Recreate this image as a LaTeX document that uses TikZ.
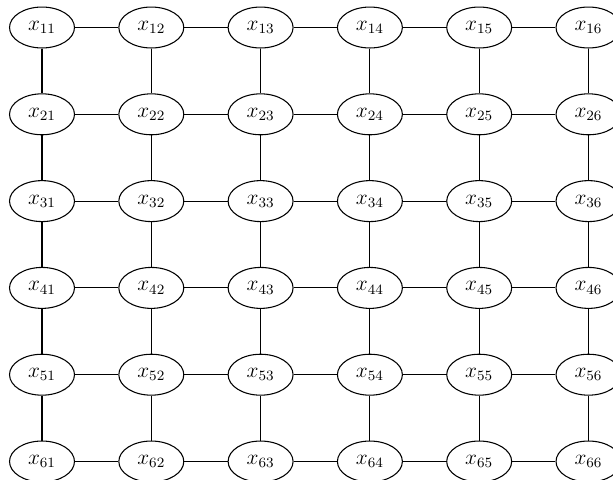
\documentclass[tikz,border=0pt]{standalone}
\usetikzlibrary{shapes.geometric}

\begin{document}
\begin{tikzpicture}[x=0.5618pt, y=-0.5618pt,
    var/.style={draw, ellipse, minimum width=36.5pt, minimum height=23pt, inner sep=1pt, line width=0.6pt, font=\large},
    edge/.style={line width=0.6pt}]
            \useasboundingbox (0,0) rectangle (613,479);
            \foreach \i in {1,...,6}
              \foreach \j in {1,...,6}
                \node[var] (x\i\j) at ({42+109.3*(\j-1)}, {27.5+86.8*(\i-1)}) {$x_{\i\j}$};
            \foreach \i in {1,...,6}
              \foreach \j [count=\k from 2] in {1,...,5}
                \draw[edge] (x\i\j) -- (x\i\k);
            \foreach \i [count=\k from 2] in {1,...,5}
              \foreach \j in {1,...,6}
                \draw[edge] (x\i\j) -- (x\k\j);
          \end{tikzpicture}
\end{document}
